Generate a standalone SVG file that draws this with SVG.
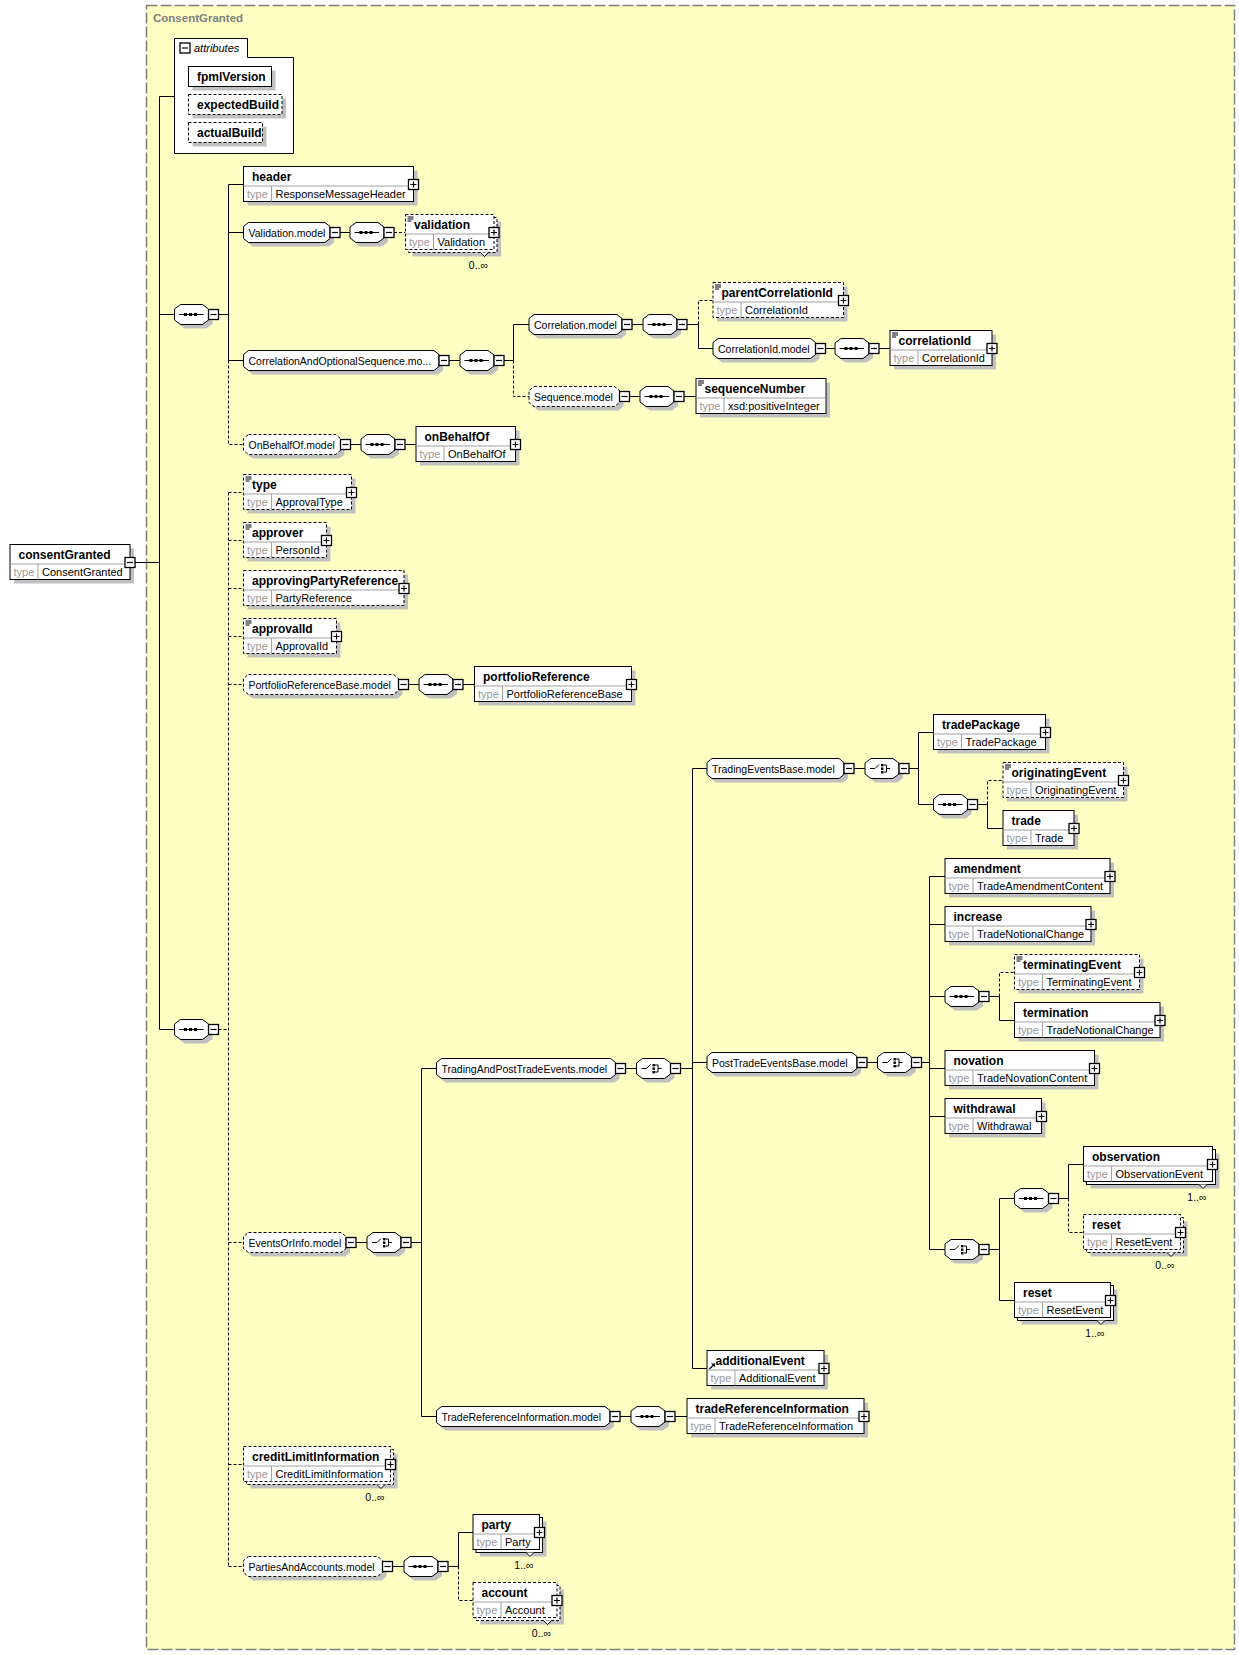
<svg xmlns="http://www.w3.org/2000/svg" width="1239" height="1655" viewBox="0 0 1239 1655">
<style>
.sh{fill:#c0c0c0}
.bx{fill:#fff;stroke:#000;stroke-width:1}
.db{fill:#fff;stroke:#000;stroke-width:1;stroke-dasharray:3,2}
.dv{stroke:#a0a0a0;stroke-width:1;fill:none}
.ln{stroke:#000;stroke-width:1;fill:none}
.dl{stroke:#000;stroke-width:1;fill:none;stroke-dasharray:3,2}
.ic{fill:#000}
.cv{fill:#fff;stroke:#000;stroke-width:1}
text{font-family:"Liberation Sans",Arial,Helvetica,sans-serif;fill:#000}
.nm{font-size:12px;font-weight:bold}
.tl{font-size:11px;fill:#999}
.tv{font-size:11px}
.md{font-size:10.5px}
.mu{font-size:10.5px;text-anchor:end}
.at{font-size:11px;font-style:italic}
.ti{font-size:11.5px;font-weight:bold;fill:#808080}
</style>
<defs>
<g id="mn"><rect x="0" y="0" width="10" height="10" fill="#fff" stroke="#000" stroke-width="1.3"/><path d="M2,5H8" stroke="#000" stroke-width="1.2"/></g>
<g id="pl"><rect x="0" y="0" width="10" height="10" fill="#fff" stroke="#000" stroke-width="1.3"/><path d="M2,5H8M5,2V8" stroke="#000" stroke-width="1.2"/></g>
<path id="li" d="M2,2.5H8M2,4.5H8M2,6.5H6" stroke="#000" stroke-width="1"/>
<path id="oct" d="M6,0H28L34,4.5V15.5L28,20H6L0,15.5V4.5Z"/>
<g id="seqC">
<use href="#oct" class="sh" x="4" y="4"/>
<use href="#oct" class="bx"/>
<path d="M4.5,10H29" class="ln"/>
<rect x="9.5" y="8.5" width="3" height="3" class="ic"/>
<rect x="14.5" y="8.5" width="3" height="3" class="ic"/>
<rect x="19.5" y="8.5" width="3" height="3" class="ic"/>
<use href="#mn" x="34" y="5"/>
</g>
<g id="chC">
<use href="#oct" class="sh" x="4" y="4"/>
<use href="#oct" class="bx"/>
<path d="M5,10H10L14,6" class="ln"/>
<rect x="16" y="5.5" width="2.4" height="2.4" class="ic"/>
<rect x="16" y="9" width="2.4" height="2.4" class="ic"/>
<rect x="16" y="12.5" width="2.4" height="2.4" class="ic"/>
<path d="M18.5,6.5H21.5V13.5H18.5M21.5,10H25" class="ln"/>
<use href="#mn" x="34" y="5"/>
</g>
</defs>

<rect x="0" y="0" width="1239" height="1655" fill="#fff"/>

<g id="frame">
<rect x="146.5" y="5.5" width="1088" height="1644" fill="#ffffc3" stroke="#808080" stroke-width="1.5" stroke-dasharray="11,3"/>
<text class="ti" x="153" y="22">ConsentGranted</text>
</g>

<g id="connectors">
<path class="ln" d="M159.5,96.5H174.5M159.5,96.5V1029.5M135,562.5H159.5M159.5,314.5H174.5M159.5,1029.5H174.5M218.5,314.5H228.5"/>
<path class="ln" d="M228.5,184.5V360.5M228.5,184.5H243.5M228.5,232.5H243.5M228.5,360.5H243.5"/>
<path class="dl" d="M228.5,360.5V444.5H243.5"/>
<path class="ln" d="M340,232.5H350"/>
<path class="dl" d="M394,232.5H405.5"/>
<path class="ln" d="M449,360.5H460M504,360.5H513.5M513.5,324.5V360.5M513.5,324.5H529"/>
<path class="dl" d="M513.5,360.5V396.5H529"/>
<path class="ln" d="M632,324.5H643M687,324.5H698.5M698.5,324.5V348.5H713"/>
<path class="dl" d="M698.5,324.5V300.5H713"/>
<path class="ln" d="M825.5,348.5H835M879,348.5H890"/>
<path class="ln" d="M629.5,396.5H640M684,396.5H696"/>
<path class="ln" d="M350.5,444.5H361M405,444.5H416"/>
<path class="dl" d="M218.5,1029.5H228.5M228.5,492.5V1566.5M228.5,492.5H243.5M228.5,540.5H243.5M228.5,588.5H243.5M228.5,636.5H243.5M228.5,684.5H243.5M228.5,1242.5H243.5M228.5,1464.5H243.5M228.5,1566.5H243.5"/>
<path class="ln" d="M408.5,684.5H419M463,684.5H474.5"/>
<path class="ln" d="M356,1242.5H367M411,1242.5H421.5M421.5,1068.5V1416.5M421.5,1068.5H436.5M421.5,1416.5H436.5"/>
<path class="ln" d="M625.5,1068.5H636.5M680.5,1068.5H692.5M692.5,768.5V1368.5M692.5,768.5H707M692.5,1062.5H707M692.5,1368.5H707"/>
<path class="ln" d="M854,768.5H865M909,768.5H918.5M918.5,732.5V804.5M918.5,732.5H933.5M918.5,804.5H933.5M977.5,804.5H987.5M987.5,804.5V828.5H1003"/>
<path class="dl" d="M987.5,804.5V780.5H1003"/>
<path class="ln" d="M867,1062.5H877.5M921.5,1062.5H929.5M929.5,876.5V1249.5M929.5,876.5H945M929.5,924.5H945M929.5,996.5H945M929.5,1068.5H945M929.5,1116.5H945M929.5,1249.5H945"/>
<path class="ln" d="M989,996.5H999.5M999.5,996.5V1020.5H1014.5"/>
<path class="dl" d="M999.5,996.5V972.5H1014.5"/>
<path class="ln" d="M989,1249.5H999.5M999.5,1198.5V1300.5M999.5,1198.5H1014.5M999.5,1300.5H1014.5M1058.5,1198.5H1068.5M1068.5,1164.5V1198.5M1068.5,1164.5H1083.5"/>
<path class="dl" d="M1068.5,1198.5V1232.5H1083.5"/>
<path class="ln" d="M620,1416.5H631M675,1416.5H687"/>
<path class="ln" d="M392.5,1566.5H404M448,1566.5H458.5M458.5,1532.5V1566.5M458.5,1532.5H473"/>
<path class="dl" d="M458.5,1566.5V1600.5H473"/>
</g>

<g id="attributes">
<path class="bx" d="M174.5,38.5H247.5V57.5H293.5V153.5H174.5Z"/>
<use href="#mn" x="180" y="43"/>
<text class="at" x="194" y="52">attributes</text>
</g>
<g id="fpmlVersion"><rect class="sh" x="192.5" y="70.5" width="83" height="20"/><rect class="bx" x="188.5" y="66.5" width="83" height="20"/><text class="nm" x="197" y="81">fpmlVersion</text></g>
<g id="expectedBuild"><rect class="sh" x="192.5" y="98.5" width="93.5" height="20"/><rect class="db" x="188.5" y="94.5" width="93.5" height="20"/><text class="nm" x="197" y="109">expectedBuild</text></g>
<g id="actualBuild"><rect class="sh" x="192.5" y="126.5" width="74" height="20"/><rect class="db" x="188.5" y="122.5" width="74" height="20"/><text class="nm" x="197" y="137">actualBuild</text></g>

<g id="consentGranted" transform="translate(10,544.5)">
<rect class="sh" x="4" y="4" width="120" height="35"/><rect class="bx" width="120" height="35"/>
<path class="dv" d="M0,19.5H120M28,19.5V35"/>
<text class="nm" x="8.5" y="14">consentGranted</text><text class="tl" x="3.5" y="31">type</text><text class="tv" x="32" y="31">ConsentGranted</text>
<use href="#mn" x="115" y="13"/>
</g>

<use id="seq1" href="#seqC" x="174.5" y="304.5"/>
<use id="seq2" href="#seqC" x="174.5" y="1019.5"/>

<g id="header" transform="translate(243.5,166.5)">
<rect class="sh" x="4" y="4" width="170" height="35"/><rect class="bx" width="170" height="35"/>
<path class="dv" d="M0,19.5H170M28,19.5V35"/>
<text class="nm" x="8.5" y="14">header</text><text class="tl" x="3.5" y="31">type</text><text class="tv" x="32" y="31">ResponseMessageHeader</text>
<use href="#pl" x="165" y="13"/>
</g>

<g id="ValidationModel" transform="translate(243.5,222.5)">
<path class="sh" transform="translate(4,4)" d="M5,0H81.5L86.5,4V16L81.5,20H5L0,16V4Z"/>
<path class="bx" d="M5,0H81.5L86.5,4V16L81.5,20H5L0,16V4Z"/>
<text class="md" x="5" y="14">Validation.model</text>
<use href="#mn" x="86.5" y="5"/>
</g>
<use id="seqValidation" href="#seqC" x="350" y="222.5"/>

<g id="validation" transform="translate(405.5,214.5)">
<rect class="sh" x="7" y="7" width="88.5" height="35"/><rect class="db" x="3" y="3" width="88.5" height="35"/><rect class="db" width="88.5" height="35"/>
<path class="dv" d="M0,19.5H88.5M28,19.5V35"/><use href="#li"/>
<text class="nm" x="8.5" y="14">validation</text><text class="tl" x="3.5" y="31">type</text><text class="tv" x="32" y="31">Validation</text>
<use href="#pl" x="83.5" y="13"/>
<path class="cv" d="M75,38L79,42L83,38"/>
<text class="mu" x="82.5" y="54">0..∞</text>
</g>

<g id="CorrelationAndOptionalSequenceModel" transform="translate(243.5,350.5)">
<path class="sh" transform="translate(4,4)" d="M5,0H190.5L195.5,4V16L190.5,20H5L0,16V4Z"/>
<path class="bx" d="M5,0H190.5L195.5,4V16L190.5,20H5L0,16V4Z"/>
<text class="md" x="5" y="14">CorrelationAndOptionalSequence.mo...</text>
<use href="#mn" x="195.5" y="5"/>
</g>
<use id="seqCorrAndOpt" href="#seqC" x="460" y="350.5"/>

<g id="CorrelationModel" transform="translate(529,314.5)">
<path class="sh" transform="translate(4,4)" d="M5,0H88L93,4V16L88,20H5L0,16V4Z"/>
<path class="bx" d="M5,0H88L93,4V16L88,20H5L0,16V4Z"/>
<text class="md" x="5" y="14">Correlation.model</text>
<use href="#mn" x="93" y="5"/>
</g>
<use id="seqCorrelation" href="#seqC" x="643" y="314.5"/>

<g id="parentCorrelationId" transform="translate(713,282.5)">
<rect class="sh" x="4" y="4" width="130.5" height="35"/><rect class="db" width="130.5" height="35"/>
<path class="dv" d="M0,19.5H130.5M28,19.5V35"/><use href="#li"/>
<text class="nm" x="8.5" y="14">parentCorrelationId</text><text class="tl" x="3.5" y="31">type</text><text class="tv" x="32" y="31">CorrelationId</text>
<use href="#pl" x="125.5" y="13"/>
</g>

<g id="CorrelationIdModel" transform="translate(713,338.5)">
<path class="sh" transform="translate(4,4)" d="M5,0H97.5L102.5,4V16L97.5,20H5L0,16V4Z"/>
<path class="bx" d="M5,0H97.5L102.5,4V16L97.5,20H5L0,16V4Z"/>
<text class="md" x="5" y="14">CorrelationId.model</text>
<use href="#mn" x="102.5" y="5"/>
</g>
<use id="seqCorrelationId" href="#seqC" x="835" y="338.5"/>

<g id="correlationId" transform="translate(890,330.5)">
<rect class="sh" x="4" y="4" width="102" height="35"/><rect class="bx" width="102" height="35"/>
<path class="dv" d="M0,19.5H102M28,19.5V35"/><use href="#li"/>
<text class="nm" x="8.5" y="14">correlationId</text><text class="tl" x="3.5" y="31">type</text><text class="tv" x="32" y="31">CorrelationId</text>
<use href="#pl" x="97" y="13"/>
</g>

<g id="SequenceModel" transform="translate(529,386.5)">
<path class="sh" transform="translate(4,4)" d="M5,0H85.5L90.5,4V16L85.5,20H5L0,16V4Z"/>
<path class="db" d="M5,0H85.5L90.5,4V16L85.5,20H5L0,16V4Z"/>
<text class="md" x="5" y="14">Sequence.model</text>
<use href="#mn" x="90.5" y="5"/>
</g>
<use id="seqSequence" href="#seqC" x="640" y="386.5"/>

<g id="sequenceNumber" transform="translate(696,378.5)">
<rect class="sh" x="4" y="4" width="130" height="35"/><rect class="bx" width="130" height="35"/>
<path class="dv" d="M0,19.5H130M28,19.5V35"/><use href="#li"/>
<text class="nm" x="8.5" y="14">sequenceNumber</text><text class="tl" x="3.5" y="31">type</text><text class="tv" x="32" y="31">xsd:positiveInteger</text>
</g>

<g id="OnBehalfOfModel" transform="translate(243.5,434.5)">
<path class="sh" transform="translate(4,4)" d="M5,0H92L97,4V16L92,20H5L0,16V4Z"/>
<path class="db" d="M5,0H92L97,4V16L92,20H5L0,16V4Z"/>
<text class="md" x="5" y="14">OnBehalfOf.model</text>
<use href="#mn" x="97" y="5"/>
</g>
<use id="seqOnBehalfOf" href="#seqC" x="361" y="434.5"/>

<g id="onBehalfOf" transform="translate(416,426.5)">
<rect class="sh" x="4" y="4" width="99.5" height="35"/><rect class="bx" width="99.5" height="35"/>
<path class="dv" d="M0,19.5H99.5M28,19.5V35"/>
<text class="nm" x="8.5" y="14">onBehalfOf</text><text class="tl" x="3.5" y="31">type</text><text class="tv" x="32" y="31">OnBehalfOf</text>
<use href="#pl" x="94.5" y="13"/>
</g>

<g id="type" transform="translate(243.5,474.5)">
<rect class="sh" x="4" y="4" width="108" height="35"/><rect class="db" width="108" height="35"/>
<path class="dv" d="M0,19.5H108M28,19.5V35"/><use href="#li"/>
<text class="nm" x="8.5" y="14">type</text><text class="tl" x="3.5" y="31">type</text><text class="tv" x="32" y="31">ApprovalType</text>
<use href="#pl" x="103" y="13"/>
</g>

<g id="approver" transform="translate(243.5,522.5)">
<rect class="sh" x="4" y="4" width="83" height="35"/><rect class="db" width="83" height="35"/>
<path class="dv" d="M0,19.5H83M28,19.5V35"/><use href="#li"/>
<text class="nm" x="8.5" y="14">approver</text><text class="tl" x="3.5" y="31">type</text><text class="tv" x="32" y="31">PersonId</text>
<use href="#pl" x="78" y="13"/>
</g>

<g id="approvingPartyReference" transform="translate(243.5,570.5)">
<rect class="sh" x="4" y="4" width="160.5" height="35"/><rect class="db" width="160.5" height="35"/>
<path class="dv" d="M0,19.5H160.5M28,19.5V35"/>
<text class="nm" x="8.5" y="14">approvingPartyReference</text><text class="tl" x="3.5" y="31">type</text><text class="tv" x="32" y="31">PartyReference</text>
<use href="#pl" x="155.5" y="13"/>
</g>

<g id="approvalId" transform="translate(243.5,618.5)">
<rect class="sh" x="4" y="4" width="93" height="35"/><rect class="db" width="93" height="35"/>
<path class="dv" d="M0,19.5H93M28,19.5V35"/><use href="#li"/>
<text class="nm" x="8.5" y="14">approvalId</text><text class="tl" x="3.5" y="31">type</text><text class="tv" x="32" y="31">ApprovalId</text>
<use href="#pl" x="88" y="13"/>
</g>

<g id="PortfolioReferenceBaseModel" transform="translate(243.5,674.5)">
<path class="sh" transform="translate(4,4)" d="M5,0H150L155,4V16L150,20H5L0,16V4Z"/>
<path class="db" d="M5,0H150L155,4V16L150,20H5L0,16V4Z"/>
<text class="md" x="5" y="14">PortfolioReferenceBase.model</text>
<use href="#mn" x="155" y="5"/>
</g>
<use id="seqPortfolio" href="#seqC" x="419" y="674.5"/>

<g id="portfolioReference" transform="translate(474.5,666.5)">
<rect class="sh" x="4" y="4" width="157" height="35"/><rect class="bx" width="157" height="35"/>
<path class="dv" d="M0,19.5H157M28,19.5V35"/>
<text class="nm" x="8.5" y="14">portfolioReference</text><text class="tl" x="3.5" y="31">type</text><text class="tv" x="32" y="31">PortfolioReferenceBase</text>
<use href="#pl" x="152" y="13"/>
</g>

<g id="EventsOrInfoModel" transform="translate(243.5,1232.5)">
<path class="sh" transform="translate(4,4)" d="M5,0H97.5L102.5,4V16L97.5,20H5L0,16V4Z"/>
<path class="db" d="M5,0H97.5L102.5,4V16L97.5,20H5L0,16V4Z"/>
<text class="md" x="5" y="14">EventsOrInfo.model</text>
<use href="#mn" x="102.5" y="5"/>
</g>
<use id="choiceEventsOrInfo" href="#chC" x="367" y="1232.5"/>

<g id="TradingAndPostTradeEventsModel" transform="translate(436.5,1058.5)">
<path class="sh" transform="translate(4,4)" d="M5,0H174L179,4V16L174,20H5L0,16V4Z"/>
<path class="bx" d="M5,0H174L179,4V16L174,20H5L0,16V4Z"/>
<text class="md" x="5" y="14">TradingAndPostTradeEvents.model</text>
<use href="#mn" x="179" y="5"/>
</g>
<use id="choiceTradingAndPost" href="#chC" x="636.5" y="1058.5"/>

<g id="TradingEventsBaseModel" transform="translate(707,758.5)">
<path class="sh" transform="translate(4,4)" d="M5,0H132L137,4V16L132,20H5L0,16V4Z"/>
<path class="bx" d="M5,0H132L137,4V16L132,20H5L0,16V4Z"/>
<text class="md" x="5" y="14">TradingEventsBase.model</text>
<use href="#mn" x="137" y="5"/>
</g>
<use id="choiceTradingEvents" href="#chC" x="865" y="758.5"/>

<g id="tradePackage" transform="translate(933.5,714.5)">
<rect class="sh" x="4" y="4" width="112" height="35"/><rect class="bx" width="112" height="35"/>
<path class="dv" d="M0,19.5H112M28,19.5V35"/>
<text class="nm" x="8.5" y="14">tradePackage</text><text class="tl" x="3.5" y="31">type</text><text class="tv" x="32" y="31">TradePackage</text>
<use href="#pl" x="107" y="13"/>
</g>

<use id="seqTrade" href="#seqC" x="933.5" y="794.5"/>

<g id="originatingEvent" transform="translate(1003,762.5)">
<rect class="sh" x="4" y="4" width="120.5" height="35"/><rect class="db" width="120.5" height="35"/>
<path class="dv" d="M0,19.5H120.5M28,19.5V35"/><use href="#li"/>
<text class="nm" x="8.5" y="14">originatingEvent</text><text class="tl" x="3.5" y="31">type</text><text class="tv" x="32" y="31">OriginatingEvent</text>
<use href="#pl" x="115.5" y="13"/>
</g>

<g id="trade" transform="translate(1003,810.5)">
<rect class="sh" x="4" y="4" width="71" height="35"/><rect class="bx" width="71" height="35"/>
<path class="dv" d="M0,19.5H71M28,19.5V35"/>
<text class="nm" x="8.5" y="14">trade</text><text class="tl" x="3.5" y="31">type</text><text class="tv" x="32" y="31">Trade</text>
<use href="#pl" x="66" y="13"/>
</g>

<g id="PostTradeEventsBaseModel" transform="translate(707,1052.5)">
<path class="sh" transform="translate(4,4)" d="M5,0H145L150,4V16L145,20H5L0,16V4Z"/>
<path class="bx" d="M5,0H145L150,4V16L145,20H5L0,16V4Z"/>
<text class="md" x="5" y="14">PostTradeEventsBase.model</text>
<use href="#mn" x="150" y="5"/>
</g>
<use id="choicePostTrade" href="#chC" x="877.5" y="1052.5"/>

<g id="amendment" transform="translate(945,858.5)">
<rect class="sh" x="4" y="4" width="165" height="35"/><rect class="bx" width="165" height="35"/>
<path class="dv" d="M0,19.5H165M28,19.5V35"/>
<text class="nm" x="8.5" y="14">amendment</text><text class="tl" x="3.5" y="31">type</text><text class="tv" x="32" y="31">TradeAmendmentContent</text>
<use href="#pl" x="160" y="13"/>
</g>

<g id="increase" transform="translate(945,906.5)">
<rect class="sh" x="4" y="4" width="146" height="35"/><rect class="bx" width="146" height="35"/>
<path class="dv" d="M0,19.5H146M28,19.5V35"/>
<text class="nm" x="8.5" y="14">increase</text><text class="tl" x="3.5" y="31">type</text><text class="tv" x="32" y="31">TradeNotionalChange</text>
<use href="#pl" x="141" y="13"/>
</g>

<use id="seqTermination" href="#seqC" x="945" y="986.5"/>

<g id="terminatingEvent" transform="translate(1014.5,954.5)">
<rect class="sh" x="4" y="4" width="125" height="35"/><rect class="db" width="125" height="35"/>
<path class="dv" d="M0,19.5H125M28,19.5V35"/><use href="#li"/>
<text class="nm" x="8.5" y="14">terminatingEvent</text><text class="tl" x="3.5" y="31">type</text><text class="tv" x="32" y="31">TerminatingEvent</text>
<use href="#pl" x="120" y="13"/>
</g>

<g id="termination" transform="translate(1014.5,1002.5)">
<rect class="sh" x="4" y="4" width="145.5" height="35"/><rect class="bx" width="145.5" height="35"/>
<path class="dv" d="M0,19.5H145.5M28,19.5V35"/>
<text class="nm" x="8.5" y="14">termination</text><text class="tl" x="3.5" y="31">type</text><text class="tv" x="32" y="31">TradeNotionalChange</text>
<use href="#pl" x="140.5" y="13"/>
</g>

<g id="novation" transform="translate(945,1050.5)">
<rect class="sh" x="4" y="4" width="149.5" height="35"/><rect class="bx" width="149.5" height="35"/>
<path class="dv" d="M0,19.5H149.5M28,19.5V35"/>
<text class="nm" x="8.5" y="14">novation</text><text class="tl" x="3.5" y="31">type</text><text class="tv" x="32" y="31">TradeNovationContent</text>
<use href="#pl" x="144.5" y="13"/>
</g>

<g id="withdrawal" transform="translate(945,1098.5)">
<rect class="sh" x="4" y="4" width="96.5" height="35"/><rect class="bx" width="96.5" height="35"/>
<path class="dv" d="M0,19.5H96.5M28,19.5V35"/>
<text class="nm" x="8.5" y="14">withdrawal</text><text class="tl" x="3.5" y="31">type</text><text class="tv" x="32" y="31">Withdrawal</text>
<use href="#pl" x="91.5" y="13"/>
</g>

<use id="choiceReset" href="#chC" x="945" y="1239.5"/>
<use id="seqObservation" href="#seqC" x="1014.5" y="1188.5"/>

<g id="observation" transform="translate(1083.5,1146.5)">
<rect class="sh" x="7" y="7" width="129" height="35"/><rect class="bx" x="3" y="3" width="129" height="35"/><rect class="bx" width="129" height="35"/>
<path class="dv" d="M0,19.5H129M28,19.5V35"/>
<text class="nm" x="8.5" y="14">observation</text><text class="tl" x="3.5" y="31">type</text><text class="tv" x="32" y="31">ObservationEvent</text>
<use href="#pl" x="124" y="13"/>
<path class="cv" d="M115.5,38L119.5,42L123.5,38"/>
<text class="mu" x="123" y="54">1..∞</text>
</g>

<g id="resetOptional" transform="translate(1083.5,1214.5)">
<rect class="sh" x="7" y="7" width="97" height="35"/><rect class="db" x="3" y="3" width="97" height="35"/><rect class="db" width="97" height="35"/>
<path class="dv" d="M0,19.5H97M28,19.5V35"/>
<text class="nm" x="8.5" y="14">reset</text><text class="tl" x="3.5" y="31">type</text><text class="tv" x="32" y="31">ResetEvent</text>
<use href="#pl" x="92" y="13"/>
<path class="cv" d="M83.5,38L87.5,42L91.5,38"/>
<text class="mu" x="91" y="54">0..∞</text>
</g>

<g id="reset" transform="translate(1014.5,1282.5)">
<rect class="sh" x="7" y="7" width="96" height="35"/><rect class="bx" x="3" y="3" width="96" height="35"/><rect class="bx" width="96" height="35"/>
<path class="dv" d="M0,19.5H96M28,19.5V35"/>
<text class="nm" x="8.5" y="14">reset</text><text class="tl" x="3.5" y="31">type</text><text class="tv" x="32" y="31">ResetEvent</text>
<use href="#pl" x="91" y="13"/>
<path class="cv" d="M82.5,38L86.5,42L90.5,38"/>
<text class="mu" x="90" y="54">1..∞</text>
</g>

<g id="additionalEvent" transform="translate(707,1350.5)">
<rect class="sh" x="4" y="4" width="117" height="35"/><rect class="bx" width="117" height="35"/>
<path class="dv" d="M0,19.5H117M28,19.5V35"/>
<path d="M2.5,18.5L6,15" stroke="#000" stroke-width="1.3"/><path d="M8,13V17L4,13Z" fill="#000"/>
<text class="nm" x="8.5" y="14">additionalEvent</text><text class="tl" x="3.5" y="31">type</text><text class="tv" x="32" y="31">AdditionalEvent</text>
<use href="#pl" x="112" y="13"/>
</g>

<g id="TradeReferenceInformationModel" transform="translate(436.5,1406.5)">
<path class="sh" transform="translate(4,4)" d="M5,0H168.5L173.5,4V16L168.5,20H5L0,16V4Z"/>
<path class="bx" d="M5,0H168.5L173.5,4V16L168.5,20H5L0,16V4Z"/>
<text class="md" x="5" y="14">TradeReferenceInformation.model</text>
<use href="#mn" x="173.5" y="5"/>
</g>
<use id="seqTradeRef" href="#seqC" x="631" y="1406.5"/>

<g id="tradeReferenceInformation" transform="translate(687,1398.5)">
<rect class="sh" x="4" y="4" width="177" height="35"/><rect class="bx" width="177" height="35"/>
<path class="dv" d="M0,19.5H177M28,19.5V35"/>
<text class="nm" x="8.5" y="14">tradeReferenceInformation</text><text class="tl" x="3.5" y="31">type</text><text class="tv" x="32" y="31">TradeReferenceInformation</text>
<use href="#pl" x="172" y="13"/>
</g>

<g id="creditLimitInformation" transform="translate(243.5,1446.5)">
<rect class="sh" x="7" y="7" width="147" height="35"/><rect class="db" x="3" y="3" width="147" height="35"/><rect class="db" width="147" height="35"/>
<path class="dv" d="M0,19.5H147M28,19.5V35"/>
<text class="nm" x="8.5" y="14">creditLimitInformation</text><text class="tl" x="3.5" y="31">type</text><text class="tv" x="32" y="31">CreditLimitInformation</text>
<use href="#pl" x="142" y="13"/>
<path class="cv" d="M133.5,38L137.5,42L141.5,38"/>
<text class="mu" x="141" y="54">0..∞</text>
</g>

<g id="PartiesAndAccountsModel" transform="translate(243.5,1556.5)">
<path class="sh" transform="translate(4,4)" d="M5,0H134L139,4V16L134,20H5L0,16V4Z"/>
<path class="db" d="M5,0H134L139,4V16L134,20H5L0,16V4Z"/>
<text class="md" x="5" y="14">PartiesAndAccounts.model</text>
<use href="#mn" x="139" y="5"/>
</g>
<use id="seqParties" href="#seqC" x="404" y="1556.5"/>

<g id="party" transform="translate(473,1514.5)">
<rect class="sh" x="7" y="7" width="66.5" height="35"/><rect class="bx" x="3" y="3" width="66.5" height="35"/><rect class="bx" width="66.5" height="35"/>
<path class="dv" d="M0,19.5H66.5M28,19.5V35"/>
<text class="nm" x="8.5" y="14">party</text><text class="tl" x="3.5" y="31">type</text><text class="tv" x="32" y="31">Party</text>
<use href="#pl" x="61.5" y="13"/>
<path class="cv" d="M53,38L57,42L61,38"/>
<text class="mu" x="60.5" y="54">1..∞</text>
</g>

<g id="account" transform="translate(473,1582.5)">
<rect class="sh" x="7" y="7" width="84" height="35"/><rect class="db" x="3" y="3" width="84" height="35"/><rect class="db" width="84" height="35"/>
<path class="dv" d="M0,19.5H84M28,19.5V35"/>
<text class="nm" x="8.5" y="14">account</text><text class="tl" x="3.5" y="31">type</text><text class="tv" x="32" y="31">Account</text>
<use href="#pl" x="79" y="13"/>
<path class="cv" d="M70.5,38L74.5,42L78.5,38"/>
<text class="mu" x="78" y="54">0..∞</text>
</g>
</svg>
